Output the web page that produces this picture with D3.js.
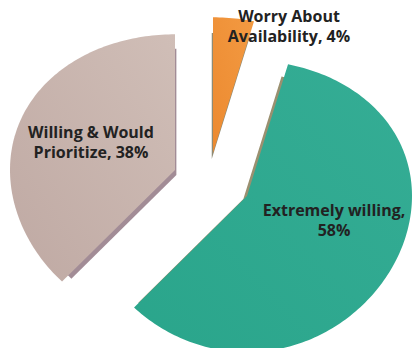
<!DOCTYPE html>
<html><head><meta charset="utf-8">
<script src="https://cdn.jsdelivr.net/npm/d3@7"></script>
<style>html,body{margin:0;padding:0;background:#fff;overflow:hidden} svg{display:block}</style>
</head><body>
<svg id="chart" width="418" height="348"></svg>
<script>
// ---- data ----
const categories = ["Worry About Availability", "Extremely willing", "Willing & Would Prioritize"];
const values = [4, 58, 38];
const labelLines = [["Worry About", "Availability, 4%"], ["Extremely willing,", "58%"], ["Willing & Would", "Prioritize, 38%"]];

// ---- layout / style ----
const W = 418, H = 348;
const center = [212, 180];
const explode = [[1, -27], [35, 16], [-37, -10]];
const R = 165, ky = 0.88, persp = 0.07;
const vanish = [195, 240], depthK = 0.93;
const topColors = [["#f39a42", "#ec8a30"], ["#35ad95", "#2aa58b"], ["#d0beb7", "#bfa9a3"]];
const sideColors = ["#8e8b76", "#9a9070", "#a28c96"];
const labelPos = [[289, 22], [334, 216], [91, 138]];

const svg = d3.select("#chart");
const defs = svg.append("defs");
topColors.forEach((c, i) => {
  const g = defs.append("linearGradient").attr("id", "g" + i)
    .attr("x1", "100%").attr("y1", "0%").attr("x2", "0%").attr("y2", "100%");
  g.append("stop").attr("offset", "0%").attr("stop-color", c[0]);
  g.append("stop").attr("offset", "100%").attr("stop-color", c[1]);
});

const arcs = d3.pie().sort(null).value(d => d)(values);

function project(theta, r) {
  const x = r * Math.sin(theta);
  const y0 = -r * Math.cos(theta);
  const y = y0 * ky / (1 - persp * y0 / R);
  return [x, y];
}

function slicePoints(a, i) {
  const ox = center[0] + explode[i][0], oy = center[1] + explode[i][1];
  const n = Math.max(8, Math.ceil((a.endAngle - a.startAngle) / 0.02));
  const pts = [[ox, oy]];
  d3.range(n + 1).forEach(k => {
    const t = a.startAngle + (a.endAngle - a.startAngle) * k / n;
    const p = project(t, R);
    pts.push([ox + p[0], oy + p[1]]);
  });
  return pts;
}

const line = d3.line().curve(d3.curveLinearClosed);

// back (depth) faces
svg.append("g").selectAll("path").data(arcs).join("path")
  .attr("d", (a, i) => line(slicePoints(a, i).map(p => [vanish[0] + depthK * (p[0] - vanish[0]), vanish[1] + depthK * (p[1] - vanish[1])])))
  .attr("fill", (a, i) => sideColors[i]);

// top faces
svg.append("g").selectAll("path").data(arcs).join("path")
  .attr("d", (a, i) => line(slicePoints(a, i)))
  .attr("fill", (a, i) => `url(#g${i})`);

// labels
const lg = svg.append("g").attr("font-family", "'Open Sans', sans-serif")
  .attr("font-size", 16).attr("font-weight", 700).attr("fill", "#222")
  .attr("text-anchor", "middle");
labelLines.forEach((lines, i) => {
  const t = lg.append("text").attr("x", labelPos[i][0]).attr("y", labelPos[i][1]);
  lines.forEach((s, j) => t.append("tspan").attr("x", labelPos[i][0]).attr("dy", j === 0 ? 0 : 20).text(s));
});
</script>
</body></html>
